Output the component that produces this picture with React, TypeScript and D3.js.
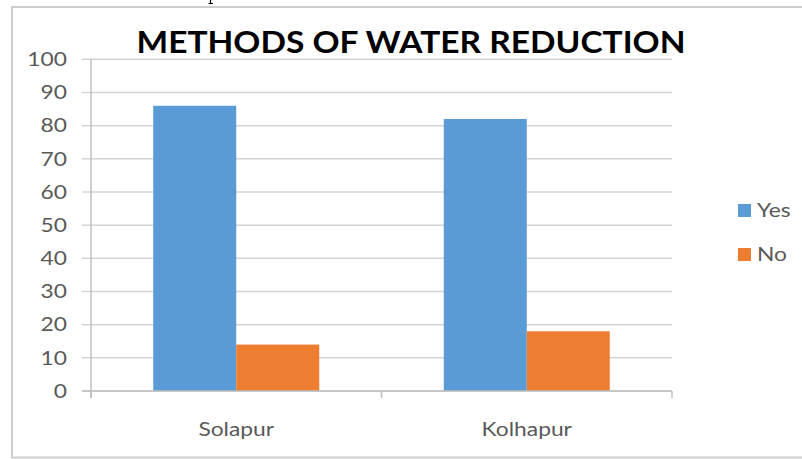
import React from 'react';
import * as d3 from 'd3';

// values
const cities = ['Solapur', 'Kolhapur'];
const seriesNames = ['Yes', 'No'];
const yesValues = [86, 82];
const noValues = [14, 18];
const yTicks = [0, 10, 20, 30, 40, 50, 60, 70, 80, 90, 100];

const colors = ['#5B9BD5', '#ED7D31'];
const font = 'Lato, "Open Sans", sans-serif';
const sx = 1.2; // the source picture is stretched sideways

function App() {
    const width = 802;
    const height = 459;
    const plot = {left: 91, right: 672, top: 59.3, bottom: 391};

    const x = d3.scaleBand<string>()
        .domain(cities)
        .range([plot.left, plot.right])
        .padding(0);

    const xInner = d3.scaleBand<string>()
        .domain(seriesNames)
        .range([0, x.bandwidth()])
        .paddingInner(0)
        .paddingOuter(0.75);

    const y = d3.scaleLinear()
        .domain([0, 100])
        .range([plot.bottom, plot.top]);

    const values = [yesValues, noValues];

    // stretched text, anchored at (tx, ty)
    const label = (txt: string, tx: number, ty: number, anchor: string, size: number, fill: string, key?: string) => (
        <g key={key} transform={`translate(${tx},${ty}) scale(${sx},1)`}>
            <text x={0} y={0} textAnchor={anchor} fontFamily={font} fontSize={size} fill={fill}>{txt}</text>
        </g>
    );

    const xTickPos = [plot.left, ...cities.map((c) => (x(c) as number) + x.bandwidth())];

    return (
        <svg width={width} height={height} style={{position: 'absolute', left: 0, top: 0, background: '#fff'}}>
            {/* tail of a letter from the page above, cropped */}
            <path d="M210.5,0V3.5M208.5,3.5H213" stroke="#000" strokeWidth={1.2} fill="none"/>

            <rect x={12} y={7} width={800} height={450.5} fill="#fff" stroke="#cdcdcd" strokeWidth={2}/>

            <text x={411} y={53} textAnchor="middle" fontFamily={font} fontWeight="bold" fontSize={30.5}
                  fill="#000" textLength={549} lengthAdjust="spacingAndGlyphs">METHODS OF WATER REDUCTION</text>

            {/* gridlines + y ticks */}
            {yTicks.map((t) => (
                <g key={t}>
                    <line x1={82} x2={plot.right} y1={y(t)} y2={y(t)} stroke="#d4d4d4" strokeWidth={1.5}/>
                    {label(String(t), 67, y(t) + 6.8, 'end', 19, '#595959')}
                </g>
            ))}

            {/* bars */}
            {cities.map((c, ci) => (
                <g key={c} transform={`translate(${x(c)},0)`}>
                    {seriesNames.map((s, si) => (
                        <rect key={s}
                              x={xInner(s)}
                              y={y(values[si][ci])}
                              width={xInner.bandwidth()}
                              height={y(0) - y(values[si][ci])}
                              fill={colors[si]}/>
                    ))}
                </g>
            ))}

            {/* axes */}
            <line x1={plot.left} x2={plot.left} y1={plot.top} y2={398} stroke="#bfbfbf" strokeWidth={1.5}/>
            <line x1={82} x2={plot.right} y1={plot.bottom} y2={plot.bottom} stroke="#bfbfbf" strokeWidth={1.5}/>
            {xTickPos.map((p, i) => (
                <line key={i} x1={p} x2={p} y1={plot.bottom} y2={398} stroke="#bfbfbf" strokeWidth={1.5}/>
            ))}

            {cities.map((c) => label(c, (x(c) as number) + x.bandwidth() / 2, 436, 'middle', 19, '#595959', c))}

            {/* legend */}
            {seriesNames.map((s, i) => (
                <g key={s}>
                    <rect x={738} y={204 + i * 44} width={13} height={13} fill={colors[i]}/>
                    {label(s, 757, 217 + i * 44, 'start', 19, '#595959')}
                </g>
            ))}
        </svg>
    );
}

export default App;
